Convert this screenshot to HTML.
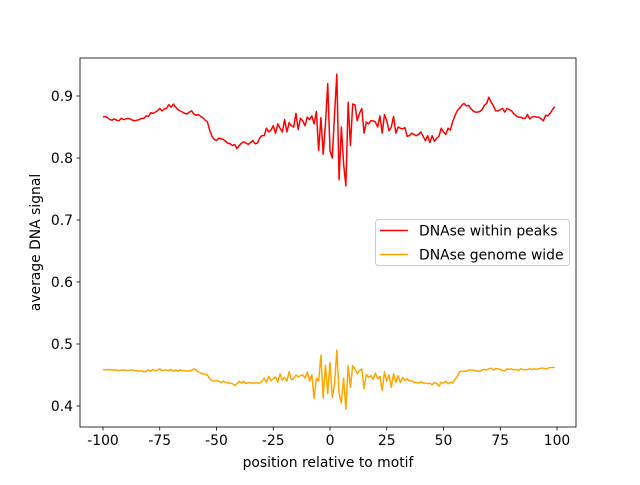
<!DOCTYPE html>
<html><head><meta charset="utf-8"><style>
body{margin:0;background:#fff;}
svg text{font-family:"DejaVu Sans","Liberation Sans",sans-serif;font-size:13.9px;fill:#000;}
</style></head><body>
<svg id="chart" width="640" height="480" xmlns="http://www.w3.org/2000/svg">
<rect x="0" y="0" width="640" height="480" fill="#fff"/>
<g id="plot"></g>
</svg>
<script>
const positionStart = -100;
const withinPeaks = [
.866,.867,.865,.862,.861,.863,.861,.860,.864,.862,
.863,.864,.863,.861,.860,.861,.862,.864,.864,.868,
.867,.873,.872,.874,.876,.880,.876,.879,.880,.886,
.882,.887,.882,.878,.876,.874,.872,.871,.874,.876,
.871,.869,.870,.867,.865,.861,.858,.845,.835,.830,
.828,.832,.831,.830,.827,.824,.823,.820,.822,.815,
.820,.824,.826,.824,.822,.825,.828,.823,.824,.832,
.836,.836,.848,.842,.845,.852,.840,.855,.848,.842,
.862,.842,.857,.852,.850,.872,.846,.864,.860,.852,
.866,.862,.868,.855,.875,.812,.865,.806,.855,.920,
.812,.800,.870,.935,.765,.850,.790,.755,.890,.820,
.887,.886,.860,.872,.880,.840,.858,.855,.860,.860,
.858,.850,.868,.840,.870,.860,.844,.850,.867,.840,
.850,.848,.847,.849,.835,.836,.840,.838,.836,.838,
.842,.835,.828,.836,.825,.836,.827,.832,.835,.848,
.842,.838,.848,.845,.858,.868,.876,.880,.885,.888,
.884,.885,.880,.876,.874,.874,.875,.878,.885,.888,
.898,.890,.884,.876,.876,.878,.880,.874,.880,.878,
.876,.871,.868,.866,.866,.864,.864,.870,.863,.866,
.867,.866,.866,.863,.860,.869,.868,.872,.878,.883];
const genomeWide = [
.459,.458,.459,.458,.458,.458,.458,.457,.458,.458,
.458,.457,.458,.458,.457,.457,.456,.457,.455,.456,
.458,.456,.459,.457,.458,.460,.457,.458,.458,.457,
.459,.456,.458,.456,.458,.457,.457,.456,.457,.457,
.460,.458,.455,.453,.452,.451,.450,.444,.441,.440,
.441,.440,.438,.440,.438,.437,.437,.436,.433,.436,
.440,.437,.440,.436,.438,.437,.437,.437,.437,.437,
.440,.445,.438,.448,.441,.444,.447,.438,.452,.442,
.446,.440,.455,.443,.444,.450,.447,.449,.450,.445,
.455,.440,.450,.412,.445,.440,.482,.413,.466,.420,
.470,.414,.435,.490,.420,.405,.445,.395,.465,.430,
.465,.460,.452,.457,.460,.428,.451,.446,.449,.443,
.453,.444,.448,.425,.455,.440,.450,.430,.452,.438,
.449,.438,.446,.441,.444,.440,.441,.438,.438,.437,
.439,.437,.437,.436,.437,.434,.438,.436,.432,.438,
.437,.440,.436,.438,.437,.443,.447,.455,.456,.456,
.456,.458,.458,.458,.457,.456,.456,.458,.459,.458,
.460,.461,.458,.460,.460,.459,.457,.457,.460,.459,
.460,.458,.459,.457,.460,.459,.458,.459,.460,.459,
.460,.459,.460,.461,.461,.460,.461,.462,.462,.462];
const xTicks = [-100,-75,-50,-25,0,25,50,75,100];
const yTicks = [0.4,0.5,0.6,0.7,0.8,0.9];
const yTickLabels = ["0.4","0.5","0.6","0.7","0.8","0.9"];

const L=80,R=576,T=58,B=427;
function xs(v){return 103+(v+100)*(557-103)/200;}
function ys(v){return 406-(v-0.4)*(406-96)/0.5;}
const NS="http://www.w3.org/2000/svg";
const g=document.getElementById('plot');
function mk(tag,attrs,parent){const e=document.createElementNS(NS,tag);for(const k in attrs)e.setAttribute(k,attrs[k]);(parent||g).appendChild(e);return e;}

function series(arr,color,name){
  const pts=arr.map((v,i)=>xs(positionStart+i).toFixed(2)+","+ys(v).toFixed(2)).join(" ");
  const p=mk('polyline',{points:pts,fill:'none',stroke:color,'stroke-width':1.5,'stroke-linejoin':'round'});
  
  
}
series(withinPeaks,'#ff0000','series-within-peaks');
series(genomeWide,'#ffa500','series-genome-wide');

const frame=mk('rect',{x:L,y:T,width:R-L,height:B-T,fill:'none',stroke:'#000','stroke-width':0.8});



xTicks.forEach(t=>{
  const x=xs(t);
  const tk=mk('line',{x1:x,x2:x,y1:B,y2:B+3.5,stroke:'#000','stroke-width':0.8});
  
  
  const tx=mk('text',{x:x,y:B+18,'text-anchor':'middle'});
  tx.textContent=String(t);
  
  
});
yTicks.forEach((t,i)=>{
  const y=ys(t);
  const tk=mk('line',{x1:L-3.5,x2:L,y1:y,y2:y,stroke:'#000','stroke-width':0.8});
  
  
  const tx=mk('text',{x:L-7,y:y+5,'text-anchor':'end'});
  tx.textContent=yTickLabels[i];
  
  
});
const xt=mk('text',{x:(L+R)/2,y:467,'text-anchor':'middle'});
xt.textContent='position relative to motif';


const yt=mk('text',{x:0,y:0,'text-anchor':'middle',transform:'translate(40,242.5) rotate(-90)'});
yt.textContent='average DNA signal';



const lg=mk('g',{});


mk('rect',{x:375.5,y:219.5,width:194,height:46,rx:3,fill:'#fff','fill-opacity':0.8,stroke:'#ccc','stroke-width':1},lg);
const e1=mk('g',{},lg);


mk('line',{x1:380,x2:408,y1:230.5,y2:230.5,stroke:'#ff0000','stroke-width':1.5},e1);
const t1=mk('text',{x:419,y:235.5},e1);t1.textContent='DNAse within peaks';
const e2=mk('g',{},lg);


mk('line',{x1:380,x2:408,y1:254.5,y2:254.5,stroke:'#ffa500','stroke-width':1.5},e2);
const t2=mk('text',{x:419,y:259.5},e2);t2.textContent='DNAse genome wide';
</script>
</body></html>
